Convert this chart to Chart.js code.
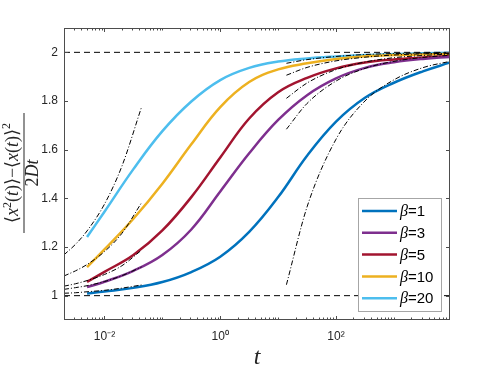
<!DOCTYPE html>
<html>
<head>
<meta charset="utf-8">
<script src="https://cdn.jsdelivr.net/npm/chart.js@4/dist/chart.umd.min.js"></script>
<style>
  body { margin: 0; background: #fff; }
  #wrap { width: 498px; height: 374px; }
</style>
</head>
<body>
<div id="wrap"><canvas id="msd" width="498" height="374"></canvas></div>
<script>
// sample times
const tCurve = [0.005, 0.01, 0.0316, 0.1, 0.316, 1, 3.16, 10, 31.6, 100, 316, 1000, 3162, 9300];
const beta1  = [1.009, 1.017, 1.032, 1.056, 1.097, 1.160, 1.262, 1.405, 1.575, 1.715, 1.813, 1.875, 1.922, 1.958];
const beta3  = [1.035, 1.057, 1.102, 1.167, 1.272, 1.428, 1.585, 1.722, 1.824, 1.893, 1.936, 1.959, 1.973, 1.981];
const beta5  = [1.057, 1.098, 1.167, 1.268, 1.405, 1.568, 1.728, 1.836, 1.895, 1.934, 1.958, 1.971, 1.979, 1.985];
const beta10 = [1.117, 1.190, 1.316, 1.460, 1.622, 1.775, 1.878, 1.930, 1.955, 1.973, 1.984, 1.989, 1.991, 1.993];
const beta20 = [1.241, 1.345, 1.520, 1.676, 1.798, 1.886, 1.936, 1.962, 1.975, 1.983, 1.989, 1.993, 1.996, 1.998];

// short time asymptotes (dash-dot, left)
const tShort = [0.002, 0.00316, 0.005, 0.01, 0.02, 0.0437];
const short1  = [1.010, 1.012, 1.016, 1.022, 1.031, 1.044];
const short3  = [1.026, 1.033, 1.041, 1.058, 1.082, 1.118];
const short5  = [1.039, 1.049, 1.062, 1.087, 1.123, 1.187];
const short10 = [1.081, 1.102, 1.128, 1.181, 1.256, 1.382];
const short20 = [1.168, 1.211, 1.266, 1.376, 1.532, 1.775];

// long time asymptotes (dash-dot, right)
const tLong = [13.9, 31.6, 100, 316, 1000, 3162, 9300];
const long1  = [1.045, 1.365, 1.643, 1.800, 1.887, 1.937, 1.963];
const long3  = [1.684, 1.790, 1.882, 1.934, 1.963, 1.979, 1.988];
const long5  = [1.811, 1.874, 1.929, 1.960, 1.978, 1.987, 1.993];
const long10 = [1.906, 1.938, 1.965, 1.980, 1.989, 1.994, 1.996];
const long20 = [1.955, 1.970, 1.983, 1.991, 1.995, 1.997, 1.998];

const labels = ['1', '3', '5', '10', '20'];
const colors = ['#0072BD', '#7E2F8E', '#A2142F', '#EDB120', '#4DBEEE'];
const xMin = 0.002, xMax = 9300;
const yTicks = [1, 1.2, 1.4, 1.6, 1.8, 2];
const xTicks = [0.01, 1, 100];
const xTickLabels = ['10\u207B\u00B2', '10\u2070', '10\u00B2'];

const pts = (xs, ys) => xs.map((x, i) => ({x: x, y: ys[i]}));

const curves = [beta1, beta3, beta5, beta10, beta20];
const shorts = [short1, short3, short5, short10, short20];
const longs = [long1, long3, long5, long10, long20];

let datasets = [];
curves.forEach((c, i) => {
  datasets.push({
    label: 'β=' + labels[i], data: pts(tCurve, c),
    borderColor: colors[i], backgroundColor: colors[i],
    borderWidth: 2.5, pointRadius: 0, tension: 0.4, order: 2
  });
});
shorts.forEach((s) => {
  datasets.push({
    label: '', data: pts(tShort, s), borderColor: '#000', borderWidth: 1,
    borderDash: [5, 2, 1, 2], pointRadius: 0, cubicInterpolationMode: 'monotone', order: 1
  });
});
longs.forEach((s) => {
  datasets.push({
    label: '', data: pts(tLong, s), borderColor: '#000', borderWidth: 1,
    borderDash: [5, 2, 1, 2], pointRadius: 0, cubicInterpolationMode: 'monotone', order: 1
  });
});
[1, 2].forEach((v) => {
  datasets.push({
    label: '', data: pts([xMin, xMax], [v, v]), borderColor: '#000', borderWidth: 1,
    borderDash: [6, 4], pointRadius: 0, order: 0
  });
});

const axisColor = '#4d4d4d';

// box, inward ticks, axis titles, legend
const matlabLook = {
  id: 'matlabLook',
  afterDraw(chart) {
    const ctx = chart.ctx;
    const a = chart.chartArea;
    const xs = chart.scales.x, ys = chart.scales.y;
    ctx.save();
    ctx.strokeStyle = axisColor;
    ctx.lineWidth = 1;
    ctx.strokeRect(a.left + 0.5, a.top + 0.5, a.right - a.left - 1, a.bottom - a.top - 1);
    ctx.beginPath();
    yTicks.forEach((v) => {
      const y = Math.round(ys.getPixelForValue(v)) + 0.5;
      ctx.moveTo(a.left, y); ctx.lineTo(a.left + 4, y);
      ctx.moveTo(a.right, y); ctx.lineTo(a.right - 4, y);
    });
    for (let d = -3; d <= 3; d++) {
      for (let k = 1; k <= 9; k++) {
        const v = k * Math.pow(10, d);
        if (v < xMin || v > xMax) continue;
        const major = (k === 1 && xTicks.includes(v));
        const len = major ? 4 : 2.5;
        const x = Math.round(xs.getPixelForValue(v)) + 0.5;
        ctx.moveTo(x, a.bottom); ctx.lineTo(x, a.bottom - len);
        ctx.moveTo(x, a.top); ctx.lineTo(x, a.top + len);
      }
    }
    ctx.stroke();

    // x title
    ctx.fillStyle = '#262626';
    ctx.font = 'italic 24px "Liberation Serif", "DejaVu Serif", serif';
    ctx.textAlign = 'center';
    ctx.textBaseline = 'alphabetic';
    ctx.fillText('t', (a.left + a.right) / 2, 364);

    // y title: fraction, rotated
    ctx.save();
    ctx.translate(24, 173);
    ctx.rotate(-Math.PI / 2);
    const big = '18px "Liberation Serif", "DejaVu Serif", serif';
    const it = 'italic 18px "Liberation Serif", "DejaVu Serif", serif';
    const sup = '12px "Liberation Serif", "DejaVu Serif", serif';
    const num = [['\u27E8', big, 0], ['x', it, 0], ['2', sup, -7], ['(', big, 0], ['t', it, 0], [')', big, 0], ['\u27E9', big, 0],
                 ['\u2212', big, 0], ['\u27E8', big, 0], ['x', it, 0], ['(', big, 0], ['t', it, 0], [')', big, 0], ['\u27E9', big, 0], ['2', sup, -8]];
    let w = 0;
    num.forEach((s) => { ctx.font = s[1]; w += ctx.measureText(s[0]).width; });
    let x0 = -w / 2;
    ctx.textAlign = 'left';
    num.forEach((s) => {
      ctx.font = s[1];
      ctx.fillText(s[0], x0, -6 + s[2]);
      x0 += ctx.measureText(s[0]).width;
    });
    ctx.fillRect(-60, -0.5, 120, 1);
    const den = [['2', big], ['Dt', it]];
    w = 0;
    den.forEach((s) => { ctx.font = s[1]; w += ctx.measureText(s[0]).width; });
    x0 = -w / 2;
    den.forEach((s) => {
      ctx.font = s[1];
      ctx.fillText(s[0], x0, 14);
      x0 += ctx.measureText(s[0]).width;
    });
    ctx.restore();

    // legend
    const lx = 358, ly = 198, lw = 83, lh = 113;
    ctx.fillStyle = '#fff';
    ctx.fillRect(lx, ly, lw, lh);
    ctx.strokeStyle = '#a6a6a6';
    ctx.strokeRect(lx + 0.5, ly + 0.5, lw, lh);
    ctx.textAlign = 'left';
    ctx.textBaseline = 'middle';
    labels.forEach((lab, i) => {
      const y = 211 + i * 21.8;
      ctx.strokeStyle = colors[i];
      ctx.lineWidth = 2.5;
      ctx.beginPath();
      ctx.moveTo(362, y); ctx.lineTo(397, y);
      ctx.stroke();
      ctx.fillStyle = '#000';
      ctx.font = 'italic 16px "Liberation Serif", "DejaVu Serif", serif';
      ctx.fillText('\u03B2', 400, y + 1);
      const bw = ctx.measureText('\u03B2').width;
      ctx.font = '15px "Liberation Sans", Arial, sans-serif';
      ctx.fillText('=' + lab, 400 + bw, y + 1);
    });
    ctx.restore();
  }
};

new Chart(document.getElementById('msd').getContext('2d'), {
  type: 'line',
  data: { datasets: datasets },
  options: {
    responsive: false,
    animation: false,
    devicePixelRatio: 1,
    layout: { padding: { left: 0, right: 48, top: 28, bottom: 0 } },
    plugins: { legend: { display: false }, tooltip: { enabled: false } },
    scales: {
      x: {
        type: 'logarithmic', min: xMin, max: xMax,
        afterFit: (s) => { s.height = 54; },
        afterBuildTicks: (s) => { s.ticks = xTicks.map((v) => ({value: v})); },
        grid: { display: false, drawTicks: false },
        border: { display: false },
        ticks: {
          padding: 9, color: '#262626', maxRotation: 0,
          font: { family: '"Liberation Sans", Arial, sans-serif', size: 12 },
          callback: (v) => xTickLabels[xTicks.indexOf(v)]
        }
      },
      y: {
        type: 'linear', min: 0.9, max: 2.1,
        afterFit: (s) => { s.width = 64; },
        afterBuildTicks: (s) => { s.ticks = yTicks.map((v) => ({value: v})); },
        grid: { display: false, drawTicks: false },
        border: { display: false },
        ticks: {
          padding: 6, color: '#262626',
          font: { family: '"Liberation Sans", Arial, sans-serif', size: 12 },
          callback: (v) => String(v)
        }
      }
    }
  },
  plugins: [matlabLook]
});
</script>
</body>
</html>
